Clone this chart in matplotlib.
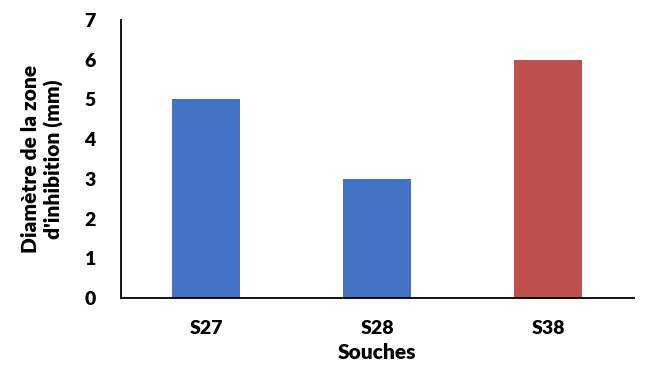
import matplotlib.pyplot as plt

plt.rcParams['font.family'] = ['Lato', 'DejaVu Sans']
plt.rcParams['font.weight'] = 'heavy'

souches = ['S27', 'S28', 'S38']
diametres = [5, 3, 6]
couleurs = ['#4472C4', '#4472C4', '#C0504D']

fig = plt.figure(figsize=(6.46, 3.71), dpi=100)
ax = fig.add_axes([0.187, 0.197, 0.794, 0.749])

ax.bar(range(len(souches)), diametres, width=0.4, color=couleurs)

ax.set_xlim(-0.5, len(souches) - 0.5)
ax.set_ylim(0, 7)
ax.set_yticks(range(0, 8))
ax.set_xticks(range(len(souches)))
ax.set_xticklabels(souches)
ax.tick_params(axis='both', length=0, labelsize=14)
ax.tick_params(axis='x', pad=16)
ax.tick_params(axis='y', pad=18)

for s in ['top', 'right']:
    ax.spines[s].set_visible(False)
for s in ['left', 'bottom']:
    ax.spines[s].set_linewidth(1.3)

ax.set_xlabel('Souches', fontsize=15, fontweight='heavy', labelpad=4)
ax.set_ylabel("Diamètre de la zone\nd'inhibition (mm)", fontsize=15,
              fontweight='heavy', labelpad=15)

fig.savefig('out.png', dpi=100)
